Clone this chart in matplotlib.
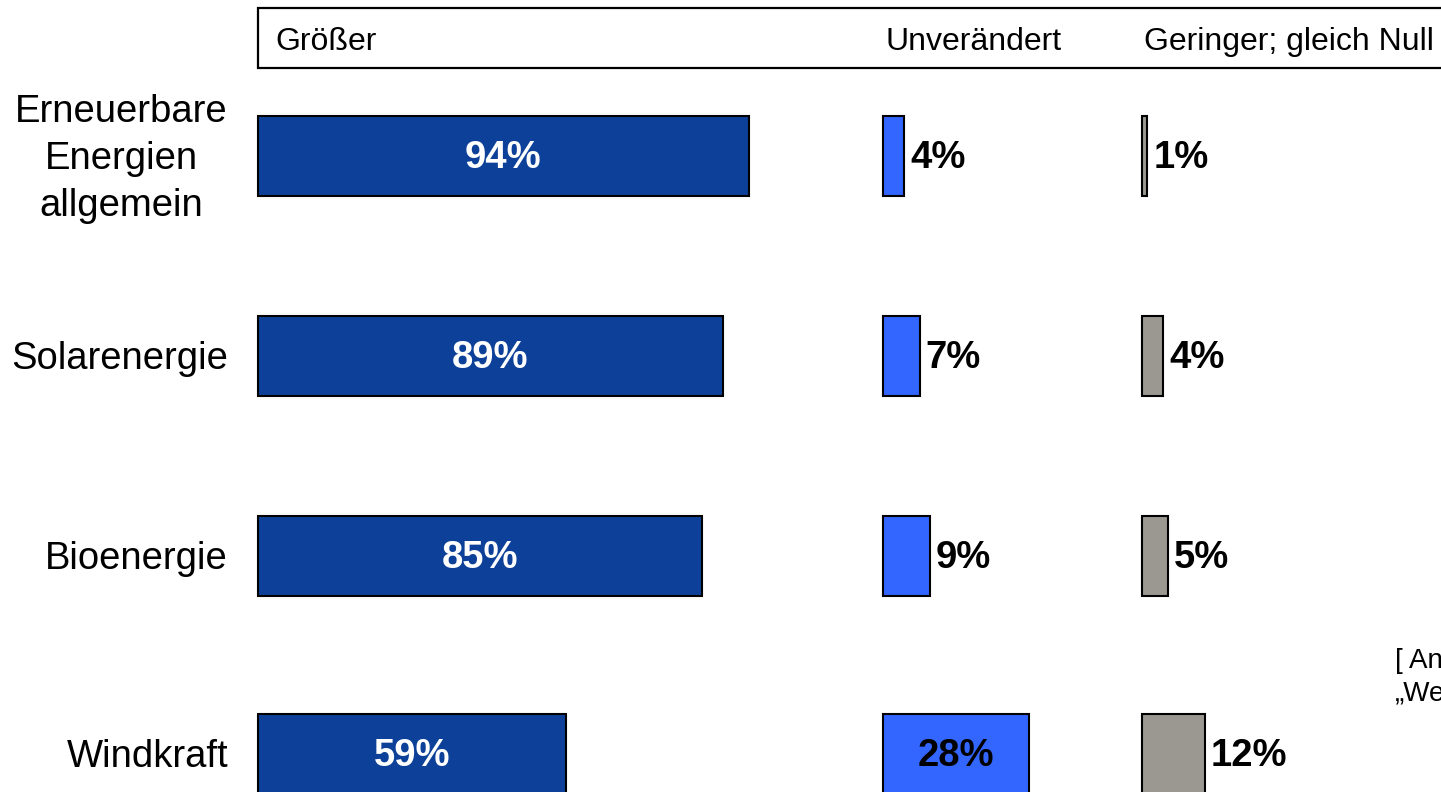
import numpy as np
import matplotlib
matplotlib.use("Agg")
import matplotlib.pyplot as plt
from matplotlib.patches import Rectangle

plt.rcParams['font.family'] = ['Liberation Sans', 'DejaVu Sans']

# Data
categories = ["Erneuerbare\nEnergien\nallgemein", "Solarenergie", "Bioenergie", "Windkraft"]
groesser = [94, 89, 85, 59]
unveraendert = [4, 7, 9, 28]
geringer = [1, 4, 5, 12]
group_labels = ["Größer", "Unverändert", "Geringer; gleich Null"]

# Layout (pixel coordinates)
W, H = 1441, 792
px_per_pct = 5.22
group_left = [258, 883, 1142]
row_y = [156, 356, 556, 754]
bar_h = 80
colors = ["#0D4199", "#3366FF", "#9B9791"]

fig = plt.figure(figsize=(W / 100, H / 100), dpi=100)
ax = fig.add_axes([0, 0, 1, 1])
ax.set_xlim(0, W)
ax.set_ylim(H, 0)
ax.axis("off")

# Header box (open to the right edge)
ax.add_patch(Rectangle((258, 8), 1300, 60, facecolor="white", edgecolor="black", lw=1.6))
for left, lab in zip(group_left, group_labels):
    ax.text(left + 17 if left == 258 else left + 2, 42, lab, fontsize=23, va="center", ha="left")

series = [groesser, unveraendert, geringer]
for g, (vals, left, col) in enumerate(zip(series, group_left, colors)):
    widths = np.array(vals) * px_per_pct
    ax.barh(row_y, widths, left=left, height=bar_h, color=col, edgecolor="black", lw=1.5)
    for y, v, w in zip(row_y, vals, widths):
        if w > 120:
            ax.text(left + w / 2, y + 2, f"{v}%", ha="center", va="center", fontsize=27.5,
                    fontweight="bold", color="white" if g == 0 else "black")
        else:
            ax.text(left + w + 6, y + 2, f"{v}%", ha="left", va="center", fontsize=27.5,
                    fontweight="bold", color="black")

# Category labels
for y, c in zip(row_y, categories):
    ax.text(228, y + 3, c, ha="right", va="center", fontsize=27.5, multialignment="center",
            linespacing=1.38)

# Note on the right, cut off by the figure edge as in the original
ax.text(1395, 661, "[ An", ha="left", va="center", fontsize=20)
ax.text(1395, 693, "„We", ha="left", va="center", fontsize=20)

fig.savefig("out.png", dpi=100)
